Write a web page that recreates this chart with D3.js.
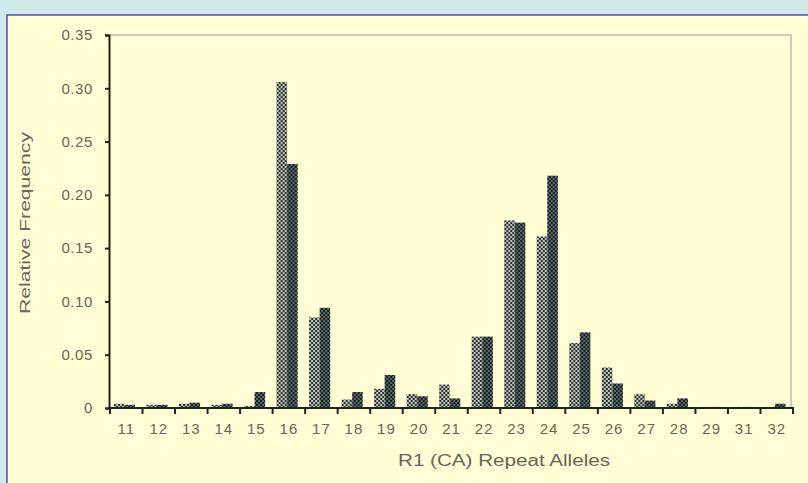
<!DOCTYPE html>
<html>
<head>
<meta charset="utf-8">
<script src="https://cdn.jsdelivr.net/npm/d3@7"></script>
<style>
  html, body { margin: 0; padding: 0; background: #cfeaea; }
  svg { display: block; }
  text { font-family: "Liberation Sans", Arial, sans-serif; }
</style>
</head>
<body>
<svg id="chart" width="808" height="483"></svg>
<script>
// Repeat allele categories (x axis)
const alleles = ["11","12","13","14","15","16","17","18","19","20","21","22","23","24","25","26","27","28","29","31","32"];
// Relative frequency, first population (light checkered bars)
const freqA = [0.004,0.003,0.004,0.003,0.002,0.306,0.085,0.008,0.018,0.013,0.022,0.067,0.176,0.161,0.061,0.038,0.013,0.004,0.001,0.001,0.001];
// Relative frequency, second population (dark checkered bars)
const freqB = [0.003,0.003,0.005,0.004,0.015,0.229,0.094,0.015,0.031,0.011,0.009,0.067,0.174,0.218,0.071,0.023,0.007,0.009,0.001,0.001,0.004];
const yTicks = [0, 0.05, 0.10, 0.15, 0.20, 0.25, 0.30, 0.35];
const yTickLabels = ["0", "0.05", "0.10", "0.15", "0.20", "0.25", "0.30", "0.35"];
const seriesKeys = ["A", "B"];

const svg = d3.select("#chart");
const textColor = "#66665a";

// Panel background with border
svg.append("rect")
  .attr("x", 7).attr("y", 15).attr("width", 820).attr("height", 500)
  .attr("fill", "#fffed4").attr("stroke", "#4b4fa8").attr("stroke-width", 1.5);

// Checkered fills for the two series
const defs = svg.append("defs");
function checker(id, c1, c2) {
  const p = defs.append("pattern").attr("id", id)
    .attr("patternUnits", "userSpaceOnUse").attr("width", 4).attr("height", 4);
  p.append("rect").attr("width", 4).attr("height", 4).attr("fill", c1);
  p.append("rect").attr("width", 2).attr("height", 2).attr("fill", c2);
  p.append("rect").attr("x", 2).attr("y", 2).attr("width", 2).attr("height", 2).attr("fill", c2);
}
checker("patA", "#c4c8bc", "#28302f");
checker("patB", "#5f6c6e", "#121d1d");

const plotLeft = 109, plotRight = 793, plotTop = 35, plotBottom = 408;

const x = d3.scaleBand().domain(alleles).range([plotLeft + 1, plotRight]).padding(0);
const inner = d3.scaleBand().domain(seriesKeys)
  .range([x.bandwidth() * 0.12, x.bandwidth() * 0.77]).padding(0);
const y = d3.scaleLinear().domain([0, 0.35]).range([plotBottom, plotTop]);

// Faint plot frame (top and right)
svg.append("path")
  .attr("d", `M${plotLeft},${plotTop}H${plotRight - 2}V${plotBottom}`)
  .attr("fill", "none").attr("stroke", "#bdbdaa").attr("stroke-width", 1.5);

// Bars
const data = alleles.map((a, i) => ({ a, A: freqA[i], B: freqB[i] }));
const groups = svg.append("g").selectAll("g").data(data).join("g")
  .attr("transform", d => `translate(${x(d.a)},0)`);
groups.selectAll("rect")
  .data(d => seriesKeys.map(k => ({ k, v: d[k] })))
  .join("rect")
  .attr("x", d => inner(d.k))
  .attr("width", inner.bandwidth())
  .attr("y", d => y(d.v))
  .attr("height", d => plotBottom - y(d.v))
  .attr("fill", d => d.k === "A" ? "url(#patA)" : "url(#patB)");

// Y axis
const yAxis = d3.axisLeft(y).tickValues(yTicks)
  .tickFormat((d, i) => yTickLabels[i]).tickSize(4).tickPadding(12);
const gy = svg.append("g").attr("transform", `translate(${plotLeft},0)`).call(yAxis);
gy.select(".domain").attr("stroke", "#1c2420").attr("stroke-width", 2);
gy.selectAll(".tick line").attr("stroke", "#1c2420").attr("stroke-width", 2);
gy.selectAll(".tick text").attr("fill", textColor).attr("font-size", 15)
  .attr("letter-spacing", 0.6)
  .attr("font-family", "Liberation Sans, Arial, sans-serif");

// X axis: labels centred in each band, ticks at band boundaries
const xAxis = d3.axisBottom(x).tickSize(0).tickPadding(15);
const gx = svg.append("g").attr("transform", `translate(0,${plotBottom})`).call(xAxis);
gx.select(".domain").remove();
gx.selectAll(".tick text").attr("fill", textColor).attr("font-size", 15)
  .attr("letter-spacing", 1)
  .attr("font-family", "Liberation Sans, Arial, sans-serif");
svg.append("line")
  .attr("x1", plotLeft - 1).attr("x2", plotRight + 1).attr("y1", plotBottom).attr("y2", plotBottom)
  .attr("stroke", "#1c2420").attr("stroke-width", 2);
const boundaries = alleles.map(a => x(a)).concat([x.range()[1]]);
svg.append("g").selectAll("line").data(boundaries).join("line")
  .attr("x1", d => d).attr("x2", d => d)
  .attr("y1", plotBottom).attr("y2", plotBottom + 6)
  .attr("stroke", "#1c2420").attr("stroke-width", 2);

// Axis titles
svg.append("text")
  .attr("transform", `translate(30,223) rotate(-90)`)
  .attr("text-anchor", "middle").attr("font-size", 15).attr("fill", textColor)
  .attr("textLength", 182).attr("lengthAdjust", "spacingAndGlyphs")
  .text("Relative Frequency");
svg.append("text")
  .attr("x", 504).attr("y", 466)
  .attr("text-anchor", "middle").attr("font-size", 16).attr("fill", textColor)
  .attr("textLength", 212).attr("lengthAdjust", "spacingAndGlyphs")
  .text("R1 (CA) Repeat Alleles");
</script>
</body>
</html>
